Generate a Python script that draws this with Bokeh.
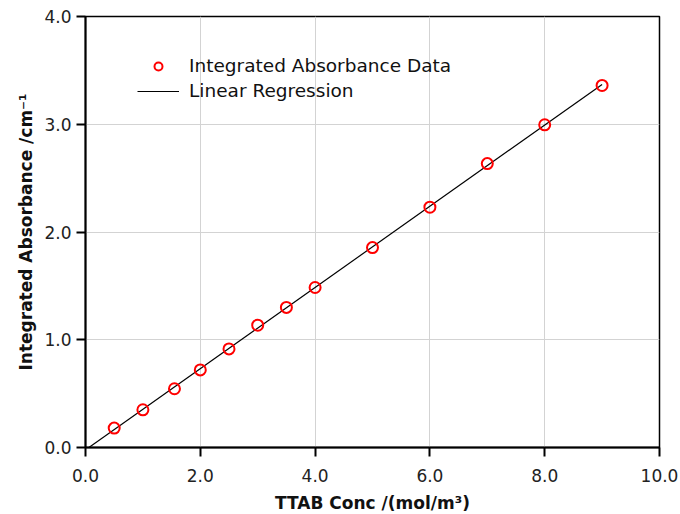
import numpy as np
from bokeh.plotting import figure
from bokeh.models import Range1d, Legend, LegendItem, FixedTicker, ColumnDataSource
from bokeh.embed import file_html
from bokeh.resources import INLINE

# Data
conc = [0.5, 1.0, 1.55, 2.0, 2.5, 3.0, 3.5, 4.0, 5.0, 6.0, 7.0, 8.0, 9.0]
absorbance = [0.18, 0.35, 0.545, 0.72, 0.915, 1.135, 1.30, 1.485, 1.855, 2.23, 2.635, 2.995, 3.36]

x_ticks = [0, 2, 4, 6, 8, 10]
y_ticks = [0, 1, 2, 3, 4]

# Linear regression through the data
slope, intercept = np.polyfit(conc, absorbance, 1)
fit_x = [0.0, max(conc)]
fit_y = [slope * v + intercept for v in fit_x]

FONT = "DejaVu Sans"

p = figure(frame_width=574, frame_height=431, output_backend="svg", toolbar_location=None,
           x_range=Range1d(0, 10), y_range=Range1d(0, 4),
           min_border_left=85, min_border_right=21, min_border_top=16, min_border_bottom=64)
p.background_fill_color = "white"
p.border_fill_color = "white"
p.outline_line_color = "black"
p.outline_line_width = 1.5

data_src = ColumnDataSource(dict(x=conc, y=absorbance))
fit_src = ColumnDataSource(dict(x=fit_x, y=fit_y))

line_r = p.line("x", "y", source=fit_src, line_color="black", line_width=1.2)
pts_r = p.scatter("x", "y", source=data_src, marker="circle", size=11,
                  line_color="#ff0000", line_width=2, fill_color=None)

for ax, ticks in ((p.xaxis[0], x_ticks), (p.yaxis[0], y_ticks)):
    ax.ticker = FixedTicker(ticks=ticks)
    ax.axis_line_color = "black"
    ax.axis_line_width = 2
    ax.major_tick_line_color = "black"
    ax.major_tick_line_width = 2
    ax.major_tick_out = 9
    ax.major_tick_in = 0
    ax.minor_tick_line_color = None
    ax.major_label_text_font = FONT
    ax.major_label_text_font_size = "17px"
    ax.major_label_text_color = "#222222"
    ax.axis_label_text_font = FONT
    ax.axis_label_text_font_size = "17px"
    ax.axis_label_text_font_style = "bold"
    ax.axis_label_text_color = "#111111"

p.xaxis[0].major_label_overrides = {t: f"{t:.1f}" for t in x_ticks}
p.yaxis[0].major_label_overrides = {t: f"{t:.1f}" for t in y_ticks}
p.xaxis[0].axis_label = "TTAB Conc /(mol/m³)"
p.yaxis[0].axis_label = "Integrated Absorbance /cm⁻¹"
p.xaxis[0].major_label_standoff = 12
p.yaxis[0].major_label_standoff = 5
p.xaxis[0].axis_label_standoff = 8
p.yaxis[0].axis_label_standoff = 5

p.xgrid.grid_line_color = "#d3d3d3"
p.ygrid.grid_line_color = "#d3d3d3"
p.xgrid.grid_line_width = 1
p.ygrid.grid_line_width = 1

legend = Legend(items=[
    LegendItem(label="Integrated Absorbance Data", renderers=[pts_r]),
    LegendItem(label="Linear Regression", renderers=[line_r]),
], location=(52, 346))
legend.border_line_color = None
legend.background_fill_alpha = 0
legend.padding = 0
legend.margin = 0
legend.spacing = 4
legend.glyph_width = 42
legend.glyph_height = 20
legend.label_height = 20
legend.label_standoff = 10
legend.label_text_font = FONT
legend.label_text_font_size = "18.5px"
legend.label_text_color = "#111111"
p.add_layout(legend, "center")

open("out.html", "w").write(file_html(p, INLINE))
